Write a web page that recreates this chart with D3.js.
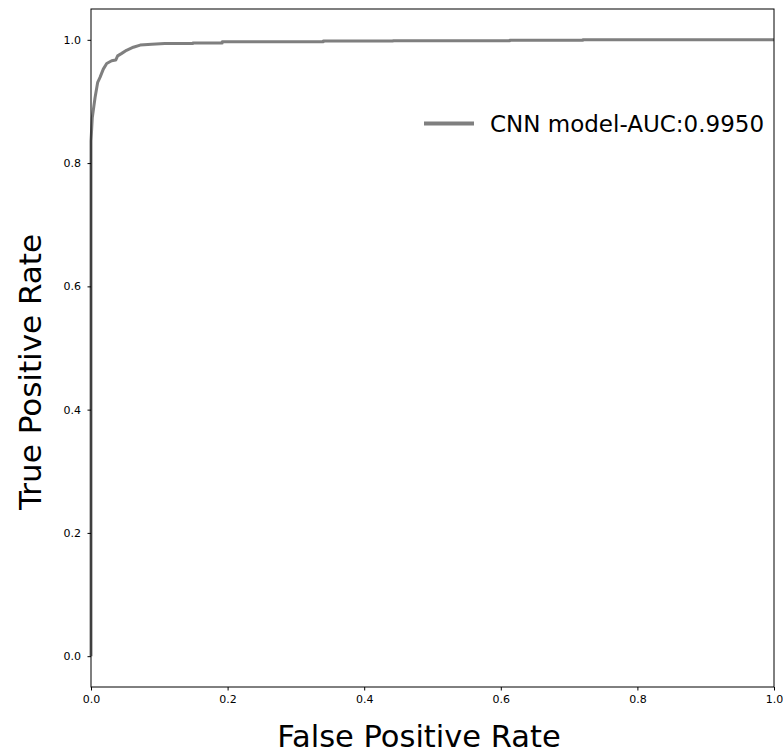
<!DOCTYPE html>
<html><head><meta charset="utf-8">
<script src="https://cdn.jsdelivr.net/npm/d3@7"></script>
<style>body{margin:0;background:#fff}svg{display:block}text{font-family:"DejaVu Sans",sans-serif}</style>
</head><body>
<script>
const fpr = [0, 0, 0.0019, 0.0059, 0.0098, 0.0132, 0.018, 0.023, 0.0303, 0.0362, 0.039, 0.045, 0.052, 0.062, 0.072, 0.089, 0.108, 0.149, 0.149, 0.192, 0.192, 0.34, 0.34, 0.442, 0.442, 0.613, 0.613, 0.72, 0.72, 1.0];
const tpr = [0, 0.836, 0.874, 0.906, 0.931, 0.939, 0.9525, 0.9616, 0.966, 0.9671, 0.974, 0.978, 0.983, 0.988, 0.9914, 0.993, 0.994, 0.9940, 0.9947, 0.9947, 0.9968, 0.9968, 0.9979, 0.9979, 0.9984, 0.9984, 0.9995, 0.9995, 1.0, 1.0];
const ticks = [0, 0.2, 0.4, 0.6, 0.8, 1.0];
const legendLabel = "CNN model-AUC:0.9950";

const W = 783, H = 751;
const svg = d3.select("body").append("svg").attr("width", W).attr("height", H);
const x = d3.scaleLinear().domain([0, 1]).range([91, 774]);
const y = d3.scaleLinear().domain([-0.05, 1.05]).range([687, 9]);

const line = d3.line().x((d, i) => x(fpr[i])).y((d, i) => y(tpr[i]));
svg.append("path").datum(fpr).attr("d", line)
  .attr("fill", "none").attr("stroke", "#7f7f7f").attr("stroke-width", 3).attr("stroke-linejoin", "round");

const xa = svg.append("g").attr("transform", "translate(0,687)")
  .call(d3.axisBottom(x).tickValues(ticks).tickFormat(d3.format(".1f")).tickSize(3.5).tickPadding(4.5));
const ya = svg.append("g").attr("transform", "translate(91,0)")
  .call(d3.axisLeft(y).tickValues(ticks).tickFormat(d3.format(".1f")).tickSize(3.5).tickPadding(6.5));
[xa, ya].forEach(g => {
  g.select(".domain").remove();
  g.selectAll("text").attr("font-size", 11).attr("fill", "#000").style("font-family", "DejaVu Sans");
  g.selectAll("line").attr("stroke", "#000");
});
svg.append("rect").attr("x", 91).attr("y", 9).attr("width", 683).attr("height", 678)
  .attr("fill", "none").attr("stroke", "#000").attr("stroke-width", 1);

svg.append("text").attr("x", 419).attr("y", 747).attr("text-anchor", "middle")
  .attr("font-size", 30.5).text("False Positive Rate");
svg.append("text").attr("transform", "translate(41,372) rotate(-90)").attr("text-anchor", "middle")
  .attr("font-size", 31).text("True Positive Rate");

svg.append("line").attr("x1", 424).attr("x2", 474).attr("y1", 123.5).attr("y2", 123.5)
  .attr("stroke", "#7f7f7f").attr("stroke-width", 4);
svg.append("text").attr("x", 490).attr("y", 132).attr("font-size", 23).text(legendLabel);
</script>
</body></html>
